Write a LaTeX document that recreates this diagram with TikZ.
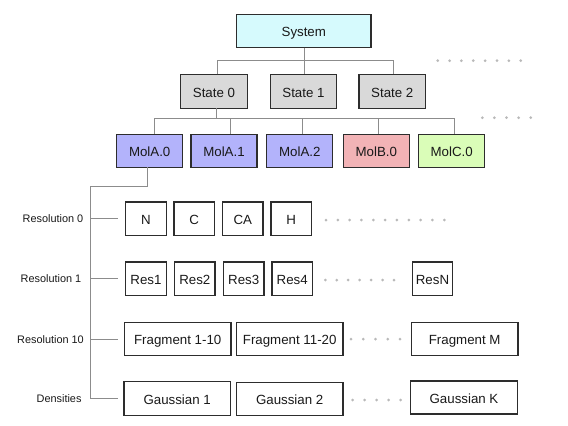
\documentclass[tikz,border=0pt]{standalone}
\usepackage{fontspec}
\setmainfont{Liberation Sans}
\definecolor{syscol}{RGB}{214,250,253}
\definecolor{statecol}{RGB}{217,217,217}
\definecolor{molacol}{RGB}{179,179,251}
\definecolor{molbcol}{RGB}{242,179,182}
\definecolor{molccol}{RGB}{218,253,184}
\definecolor{bordercol}{RGB}{45,45,45}
\definecolor{linecol}{RGB}{140,140,140}
\definecolor{dotcol}{RGB}{185,185,185}
\tikzset{
  box/.style={draw=bordercol, line width=1.3pt, inner sep=0pt, outer sep=0pt,
    text height=11.5pt, text depth=0pt,
    font=\fontsize{13.3}{15}\selectfont, text=black!90},
  sbox/.style={box, minimum width=40.5pt, minimum height=33.4pt},
  wbox/.style={box, minimum width=106.5pt, minimum height=33pt},
  statebox/.style={box, fill=statecol, minimum width=66.6pt, minimum height=34pt},
  molbox/.style={box, minimum width=66pt, minimum height=33pt},
  conn/.style={draw=linecol, line width=1pt},
  lab/.style={anchor=east, inner sep=0pt, text height=8pt, text depth=0pt,
    font=\fontsize{10.9}{12}\selectfont, text=black!90},
}
\newcommand{\dotrow}[4]{%
  \foreach \k in {0,...,#3} {\fill[dotcol] ({#1+\k*#4},#2) circle (1.5pt);}}
\begin{document}
\begin{tikzpicture}[x=1pt,y=-1pt]
\useasboundingbox (0,0) rectangle (568,426);
% top
\node[box, fill=syscol, minimum width=134.3pt, minimum height=33.4pt] (sys) at (303.8,31) {System};
\node[statebox] (s0) at (214,91.3) {State 0};
\node[statebox] (s1) at (303.5,91.3) {State 1};
\node[statebox] (s2) at (392.3,91.3) {State 2};
\node[molbox, fill=molacol] (ma0) at (149.7,150.7) {MolA.0};
\node[molbox, fill=molacol] (ma1) at (224,150.7) {MolA.1};
\node[molbox, fill=molacol] (ma2) at (299.8,150.7) {MolA.2};
\node[molbox, fill=molbcol] (mb0) at (376.3,150.7) {MolB.0};
\node[molbox, fill=molccol] (mc0) at (451.7,150.7) {MolC.0};
% connectors top
\coordinate (sj) at (304,60.5);
\draw[conn] ([xshift=0.2pt]sys.south) -- ([xshift=0.5pt]s1.north);
\draw[conn] ([xshift=3.3pt]s0.north) |- (sj) -| ([xshift=1pt]s2.north);
\coordinate (mj) at (216,118.3);
\draw[conn] ([xshift=2pt]s0.south) -- (mj);
\draw[conn] ([xshift=4.6pt]ma0.north) |- (mj) -| ([xshift=2.3pt]mc0.north);
\draw[conn] ([xshift=6pt]ma1.north) -- ++(0,-16);
\draw[conn] ([xshift=2.9pt]ma2.north) -- ++(0,-16);
\draw[conn] ([xshift=2pt]mb0.north) -- ++(0,-16);
\dotrow{437.7}{60.7}{7}{11.86}
\dotrow{482.3}{117.7}{4}{12.1}
% labels
\node[lab] (l0) at (83.5,218.3) {Resolution 0};
\node[lab] (l1) at (81.5,278.3) {Resolution 1};
\node[lab] (l10) at (84,339) {Resolution 10};
\node[lab] (ld) at (81.7,398) {Densities};
% rows
\node[sbox] (n) at (146,218.6) {N};
\node[sbox] (c) at (194.2,218.6) {C};
\node[sbox] (ca) at (242.8,218.6) {CA};
\node[sbox] (h) at (291.2,218.6) {H};
\dotrow{326}{220}{10}{11.83}
\node[sbox] (r1) at (146,278.8) {Res1};
\node[sbox] (r2) at (194.8,278.8) {Res2};
\node[sbox] (r3) at (243.7,278.8) {Res3};
\node[sbox] (r4) at (292.2,278.8) {Res4};
\node[sbox] (rn) at (432.5,278.8) {ResN};
\dotrow{325.3}{280}{6}{11.45}
\node[wbox] (f1) at (177.7,339) {Fragment 1-10};
\node[wbox] (f2) at (289.7,339) {Fragment 11-20};
\node[wbox] (fm) at (464.7,339) {Fragment M};
\dotrow{351}{339}{4}{12.25}
\node[wbox, minimum height=34pt] (g1) at (177.2,398.3) {Gaussian 1};
\node[wbox] (g2) at (289.7,399) {Gaussian 2};
\node[wbox] (gk) at (464,397.5) {Gaussian K};
\dotrow{352.7}{400}{4}{12}
% tree on the left
\coordinate (tj) at (90,186.7);
\coordinate (t0) at (118.3,218.3);
\coordinate (t1) at (118.3,278.3);
\coordinate (t10) at (118.3,339);
\coordinate (td) at (118.3,398);
\draw[conn] ([xshift=-2pt]ma0.south) |- (tj) |- (td);
\draw[conn] (tj) |- (t0);
\draw[conn] (tj) |- (t1);
\draw[conn] (tj) |- (t10);
\end{tikzpicture}
\end{document}
